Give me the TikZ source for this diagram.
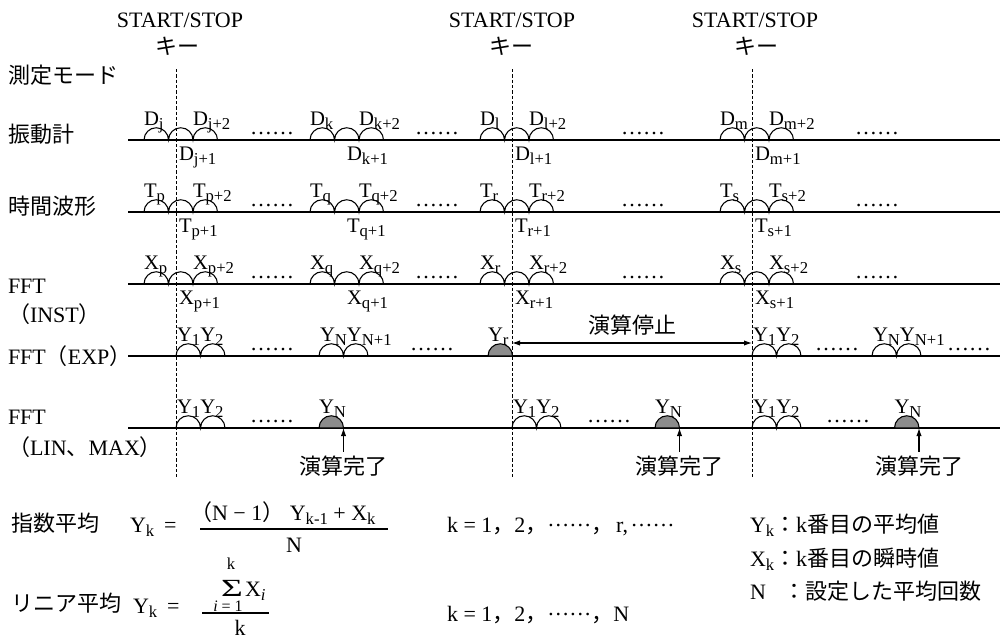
\documentclass[tikz,border=0pt]{standalone}
\usepackage{graphicx}
\usepackage{fontspec}
\setmainfont{Liberation Serif}
\newfontfamily\jp{Noto Sans CJK JP}
\usetikzlibrary{arrows.meta}
\newcommand\sbs[1]{\raisebox{-3.2pt}{\fontsize{12.5}{13}\selectfont #1}}
\newcommand\mdots{\raisebox{4.2pt}{……}}
\newcommand\hp{arc[start angle=180,end angle=360,radius=12.25]}
\tikzset{
  txt/.style={inner sep=0pt, outer sep=0pt, font=\fontsize{16.5}{18}\selectfont},
  sublab/.style={inner sep=0pt, outer sep=0pt, font=\fontsize{15.5}{17}\selectfont, anchor=base west},
  rowline/.style={line width=1pt},
  hump/.style={line width=0.8pt},
  grayhump/.style={line width=0.8pt, fill=black!45},
  keyline/.style={line width=0.6pt, dash pattern=on 2.4pt off 1.6pt},
  uparrow/.style={-{Latex[length=6pt,width=4pt]}, line width=0.8pt},
  botharrow/.style={{Latex[length=6pt,width=4pt]}-{Latex[length=6pt,width=4pt]}, line width=0.8pt},
}
% three humps with labels
\newcommand\trio[7]{%
  \draw[hump] (#2,#3) \hp \hp \hp;
  \node[sublab] (#1a) at (#2,#3-15) {#4};
  \node[sublab] (#1c) at (#2+49,#3-15) {#5};
  \node[sublab] (#1b) at (#7,#3+20) {#6};
}
\newcommand\pairh[4]{%
  \draw[hump] (#2,#3) \hp \hp;
  \node[sublab] (#1) at (#2+1,#3-15) {#4};
}
\newcommand\ghump[4]{%
  \filldraw[grayhump] (#2,#3) \hp -- cycle;
  \node[sublab] (#1) at (#2,#3-15) {#4};
  \coordinate (#1e) at (#2+24.5,#3);
}
\newcommand\rowdots[3]{\node[txt,anchor=base west] (#1) at (#2,#3) {……};}
\begin{document}
\begin{tikzpicture}[x=0.75pt,y=-0.75pt]
\useasboundingbox (0,0) rectangle (1000,639);

% titles
\node[txt] (t1) at (180,20) {START/STOP};
\node[txt] (k1) at (177,46) {\jp キー};
\node[txt] (t2) at (512,20) {START/STOP};
\node[txt] (k2) at (511,46) {\jp キー};
\node[txt] (t3) at (755,20) {START/STOP};
\node[txt] (k3) at (756,46) {\jp キー};

% dashed key lines
\coordinate (d1t) at (176,69); \coordinate (d1b) at (176,477);
\coordinate (d2t) at (512,69); \coordinate (d2b) at (512,477);
\coordinate (d3t) at (752,69); \coordinate (d3b) at (752,477);
\draw[keyline] (d1t) -- (d1b);
\draw[keyline] (d2t) -- (d2b);
\draw[keyline] (d3t) -- (d3b);

% row labels
\node[txt,anchor=west] (m0) at (8,75) {\jp 測定モード};
\node[txt,anchor=west] (m1) at (8,134) {\jp 振動計};
\node[txt,anchor=west] (m2) at (8,206) {\jp 時間波形};
\node[txt,anchor=west] (m3a) at (8,286) {FFT};
\node[txt,anchor=west] (m3b) at (8,314) {{\jp （}INST{\jp ）}};
\node[txt,anchor=west] (m4) at (8,356) {FFT{\jp （}EXP{\jp ）}};
\node[txt,anchor=west] (m5a) at (8,417) {FFT};
\node[txt,anchor=west] (m5b) at (8,447) {{\jp （}LIN{\jp 、}MAX{\jp ）}};

% row lines
\foreach \n/\y in {1/140,2/212,3/284,4/356,5/428}{
  \coordinate (r\n s) at (128,\y);
  \coordinate (r\n e) at (1000,\y);
  \draw[rowline] (r\n s) -- (r\n e);
}

% row 1: D
\trio{da}{144}{140}{D\sbs{j}}{D\sbs{j+2}}{D\sbs{j+1}}{179}
\trio{db}{310}{140}{D\sbs{k}}{D\sbs{k+2}}{D\sbs{k+1}}{347}
\trio{dc}{480}{140}{D\sbs{l}}{D\sbs{l+2}}{D\sbs{l+1}}{515}
\trio{dd}{720}{140}{D\sbs{m}}{D\sbs{m+2}}{D\sbs{m+1}}{755}
\rowdots{o1a}{250}{134.5}
\rowdots{o1b}{415}{134.5}
\rowdots{o1c}{621}{134.5}
\rowdots{o1d}{855}{134.5}

% row 2: T
\trio{ta}{144}{212}{T\sbs{p}}{T\sbs{p+2}}{T\sbs{p+1}}{179}
\trio{tb}{310}{212}{T\sbs{q}}{T\sbs{q+2}}{T\sbs{q+1}}{347}
\trio{tc}{480}{212}{T\sbs{r}}{T\sbs{r+2}}{T\sbs{r+1}}{515}
\trio{td}{720}{212}{T\sbs{s}}{T\sbs{s+2}}{T\sbs{s+1}}{755}
\rowdots{o2a}{250}{206.5}
\rowdots{o2b}{415}{206.5}
\rowdots{o2c}{621}{206.5}
\rowdots{o2d}{855}{206.5}

% row 3: X
\trio{xa}{144}{284}{X\sbs{p}}{X\sbs{p+2}}{X\sbs{p+1}}{179}
\trio{xb}{310}{284}{X\sbs{q}}{X\sbs{q+2}}{X\sbs{q+1}}{347}
\trio{xc}{480}{284}{X\sbs{r}}{X\sbs{r+2}}{X\sbs{r+1}}{515}
\trio{xd}{720}{284}{X\sbs{s}}{X\sbs{s+2}}{X\sbs{s+1}}{755}
\rowdots{o3a}{250}{278.5}
\rowdots{o3b}{415}{278.5}
\rowdots{o3c}{621}{278.5}
\rowdots{o3d}{855}{278.5}

% row 4: EXP
\pairh{ea}{176}{356}{Y\sbs{1}Y\sbs{2}}
\rowdots{o4a}{250}{350.5}
\pairh{eb}{319}{356}{Y\sbs{N}Y\sbs{N+1}}
\rowdots{o4b}{410}{350.5}
\ghump{er}{488}{356}{Y\sbs{r}}
\coordinate (stopL) at (512,343);
\coordinate (stopR) at (752,343);
\draw[botharrow] (stopL) -- (stopR);
\node[txt] (stoplab) at (632,325) {\jp 演算停止};
\pairh{ed}{752}{356}{Y\sbs{1}Y\sbs{2}}
\rowdots{o4c}{815}{350.5}
\pairh{ee}{872}{356}{Y\sbs{N}Y\sbs{N+1}}
\rowdots{o4d}{947}{350.5}

% row 5: LIN, MAX
\pairh{la}{176}{428}{Y\sbs{1}Y\sbs{2}}
\rowdots{o5a}{250}{422.5}
\ghump{lg1}{319}{428}{Y\sbs{N}}
\pairh{lc}{512}{428}{Y\sbs{1}Y\sbs{2}}
\rowdots{o5c}{587}{422.5}
\ghump{lg2}{655}{428}{Y\sbs{N}}
\pairh{ld}{752}{428}{Y\sbs{1}Y\sbs{2}}
\rowdots{o5d}{826}{422.5}
\ghump{lg3}{894.5}{428}{Y\sbs{N}}
\node[txt] (done1) at (343.5,466) {\jp 演算完了};
\node[txt] (done2) at (679.5,466) {\jp 演算完了};
\node[txt] (done3) at (919,466) {\jp 演算完了};
\draw[uparrow,shorten <=3pt] (done1.north) -- (lg1e);
\draw[uparrow,shorten <=3pt] (done2.north) -- (lg2e);
\draw[uparrow,shorten <=3pt] (done3.north) -- (lg3e);

% formula 1
\node[txt,anchor=west] (avg1) at (12,523) {\jp 指数平均};
\node[txt,anchor=base west] (f1l) at (130,532) {Y\sbs{k}\hspace{0.45em}=};
\coordinate (b1l) at (200,529); \coordinate (b1r) at (388,529);
\draw[line width=0.8pt] (b1l) -- (b1r);
\node[txt,anchor=base west] (f1n) at (190,520) {{\jp （}N − 1{\jp ）} Y\sbs{k-1} + X\sbs{k}};
\node[txt,anchor=base] (f1d) at (294,552) {N};
\node[txt,anchor=base west] (f1k) at (447,532) {k = 1{\jp ，}2{\jp ，}\mdots{\jp ，}\hspace{2pt}r,\hspace{2pt}\mdots};

% formula 2
\node[txt,anchor=west] (avg2) at (12,603) {\jp リニア平均};
\node[txt,anchor=base west] (f2l) at (133,613) {Y\sbs{k}\hspace{0.45em}=};
\coordinate (b2l) at (202,613); \coordinate (b2r) at (269,613);
\draw[line width=0.8pt] (b2l) -- (b2r);
\node[txt] (sig) at (232,588.5) {\scalebox{1.7}[1.12]{\symbol{"03A3}}};
\node[txt,anchor=base,font=\fontsize{12.5}{13}\selectfont] (sigk) at (231,569) {k};
\node[txt,anchor=base,font=\fontsize{12}{13}\selectfont] (sigi) at (228,611) {\textit{i}\hspace{3pt}=\hspace{3pt}1};
\node[txt,anchor=base west] (sigx) at (245,596) {X\sbs{\textit{i}}};
\node[txt,anchor=base] (f2d) at (240,635) {k};
\node[txt,anchor=base west] (f2k) at (447,621) {k = 1{\jp ，}2{\jp ，}\mdots{\jp ，}N};

% legend
\node[txt,anchor=base west] (ly) at (750,532) {Y\sbs{k}{\jp ：}k{\jp 番目の平均値}};
\node[txt,anchor=base west] (lx) at (750,566) {X\sbs{k}{\jp ：}k{\jp 番目の瞬時値}};
\node[txt,anchor=base west] (ln) at (750,599) {N\hspace{13pt}{\jp ：設定した平均回数}};
\end{tikzpicture}
\end{document}
